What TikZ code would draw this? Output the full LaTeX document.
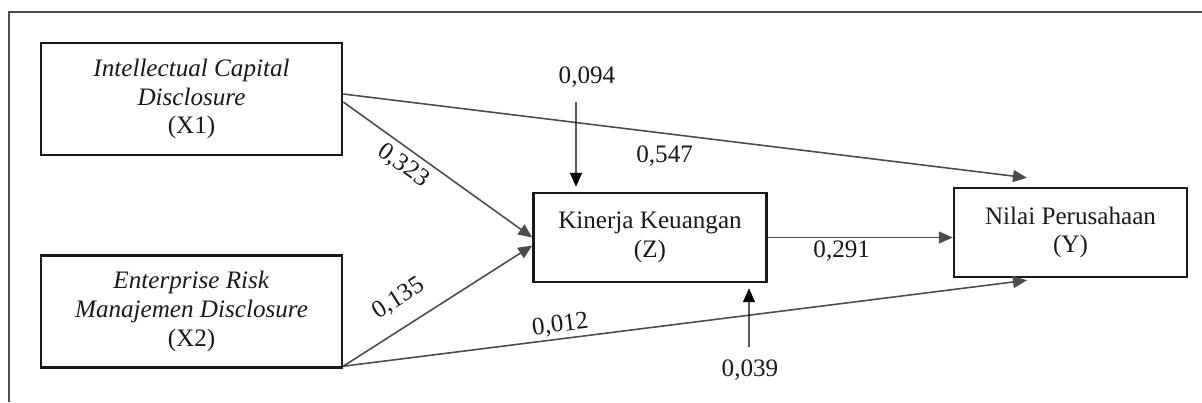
\documentclass[tikz,border=0pt]{standalone}
\usepackage{fontspec}
\setmainfont{Liberation Serif}
\usetikzlibrary{positioning, arrows.meta}

\begin{document}
\begin{tikzpicture}[
    varbox/.style={rectangle, draw=black!90, line width=1.4pt, align=center, text=black!90, font=\fontsize{14.3}{16.4}\selectfont},
    exobox/.style={varbox, minimum width=6.02cm, minimum height=2.24cm},
    endobox/.style={varbox, minimum width=4.66cm, minimum height=1.78cm},
    coef/.style={text=black!90, font=\fontsize{14.3}{16.4}\selectfont},
    arrow/.style={-{Triangle[length=0.28cm, width=0.24cm]}, line width=0.9pt, draw=black!70},
    errarrow/.style={-{Triangle[length=0.28cm, width=0.24cm]}, line width=0.8pt, draw=black}
]

\useasboundingbox (0,0) rectangle (24.04,-8.04);

% Bingkai luar
\draw[line width=1.5pt, black!70] (24.04,-0.24) -- (0.18,-0.24) -- (0.18,-8.04);

% Variabel eksogen
\node[exobox] (icd) at (3.83,-1.98) {\textit{Intellectual Capital} \\ \textit{Disclosure} \\ (X1)};
\node[exobox] (ermd) at (3.83,-6.23) {\textit{Enterprise Risk} \\ \textit{Manajemen Disclosure} \\ (X2)};

% Variabel intervening dan dependen
\node[endobox] (kinerja) at (13.0,-4.75) {Kinerja Keuangan \\ (Z)};
\node[endobox] (nilai) at (21.41,-4.65) {Nilai Perusahaan \\ (Y)};

% Nilai galat
\node[coef] (err1) at (11.74,-1.54) {0,094};
\node[coef] (err2) at (15.0,-7.4) {0,039};

% Jalur ke Kinerja Keuangan
\draw[arrow] ([yshift=-0.06cm]icd.east) -- (kinerja.west) node[coef, pos=0.37, sloped, below] {0,323};
\draw[arrow] ([yshift=0.05cm]ermd.south east) -- ([yshift=-0.16cm]kinerja.west) node[coef, pos=0.37, sloped, above=0.2cm] {0,135};

% Jalur ke Nilai Perusahaan
\draw[arrow] ([yshift=0.1cm]icd.east) -- ([xshift=-0.87cm, yshift=0.18cm]nilai.north) node[coef, pos=0.47, below=0.12cm] {0,547};
\draw[arrow] ([yshift=0.05cm]ermd.south east) -- ([xshift=-0.87cm, yshift=-0.04cm]nilai.south) node[coef, pos=0.32, sloped, above, inner sep=1.5pt] {0,012};
\draw[arrow] (kinerja.east) -- (kinerja.east -| nilai.west) node[coef, pos=0.4, below, inner sep=1.5pt] {0,291};

% Galat
\draw[errarrow] ([xshift=-0.22cm, yshift=-0.5cm]err1.center) -- ([xshift=-1.48cm, yshift=0.1cm]kinerja.north);
\draw[errarrow] ([xshift=-0.02cm, yshift=0.46cm]err2.center) -- ([xshift=1.98cm, yshift=-0.1cm]kinerja.south);

\end{tikzpicture}
\end{document}
